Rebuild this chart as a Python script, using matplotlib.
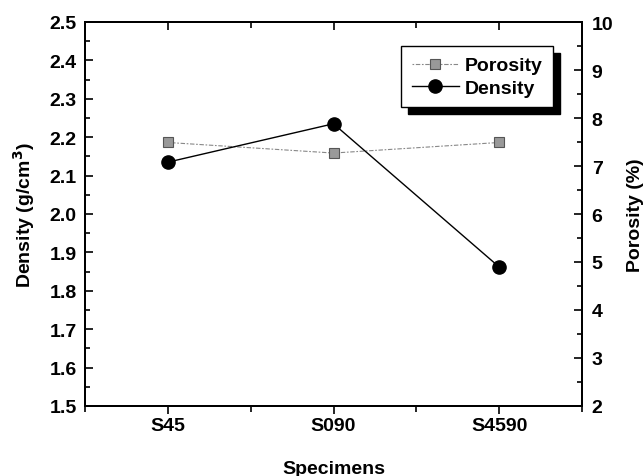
import matplotlib
matplotlib.use("Agg")
import matplotlib.pyplot as plt
from matplotlib.ticker import MultipleLocator

plt.rcParams['font.family'] = ['Liberation Sans', 'DejaVu Sans']
plt.rcParams['font.weight'] = 'bold'

specimens = ["S45", "S090", "S4590"]
density = [2.135, 2.235, 1.862]
porosity = [7.49, 7.27, 7.49]

fig = plt.figure(figsize=(6.44, 4.77), dpi=100)
ax = fig.add_axes([85/644, 1-407/477, (582-85)/644, (407-23)/477])
ax2 = ax.twinx()

x = list(range(1, len(specimens) + 1))
lp, = ax2.plot(x, porosity, linestyle=(0, (1.5, 1.5, 4, 1.5)), color='#888888', lw=0.8,
               marker='s', markersize=7.5, markerfacecolor='#999999',
               markeredgecolor='#555555', markeredgewidth=0.8, label='Porosity')
ld, = ax.plot(x, density, linestyle='-', color='black', lw=1.0,
              marker='o', markersize=9.5, markerfacecolor='black', label='Density')
ax.set_zorder(ax2.get_zorder() + 1)
ax.patch.set_visible(False)

ax.set_xlim(0.5, 3.5)
ax.set_ylim(1.5, 2.5)
ax2.set_ylim(2, 10)
ax.set_xticks(x)
ax.set_xticklabels(specimens)
ax.xaxis.set_minor_locator(MultipleLocator(0.5))
ax.yaxis.set_major_locator(MultipleLocator(0.1))
ax.yaxis.set_minor_locator(MultipleLocator(0.05))
ax2.yaxis.set_major_locator(MultipleLocator(1))
ax2.yaxis.set_minor_locator(MultipleLocator(0.5))

fs = 14
ax.tick_params(axis='y', which='both', direction='in', labelsize=fs, width=1.2, pad=6)
ax.tick_params(axis='y', which='major', length=6)
ax.tick_params(axis='y', which='minor', length=3.5)
ax2.tick_params(axis='y', which='both', direction='in', labelsize=fs, width=1.2, pad=7)
ax2.tick_params(axis='y', which='major', length=6)
ax2.tick_params(axis='y', which='minor', length=3.5)
ax.tick_params(axis='x', which='both', direction='out', labelsize=fs, width=1.2, pad=2)
ax.tick_params(axis='x', which='major', length=6)
ax.tick_params(axis='x', which='minor', length=4)
sec = ax.secondary_xaxis('top')
sec.set_xticks(x)
sec.xaxis.set_minor_locator(MultipleLocator(0.5))
sec.tick_params(which='both', direction='in', labeltop=False, width=1.2)
sec.tick_params(which='major', length=6)
sec.tick_params(which='minor', length=4)
for s in ax.spines.values():
    s.set_linewidth(1.4)
for s in ax2.spines.values():
    s.set_linewidth(1.4)
sec.spines['top'].set_linewidth(1.4)

ax.set_xlabel("Specimens", fontsize=fs, fontweight='bold', labelpad=19)
ax.set_ylabel("Density (g/cm$^\\mathbf{3}$)", fontsize=fs, fontweight='bold', labelpad=9)
ax2.set_ylabel("Porosity (%)", fontsize=fs, fontweight='bold', labelpad=10)
for lab in ax.get_xticklabels() + ax.get_yticklabels() + ax2.get_yticklabels():
    lab.set_fontweight('bold')

leg = ax.legend(handles=[lp, ld], loc='upper right', bbox_to_anchor=(0.942, 0.9375),
                borderaxespad=0, fontsize=fs, frameon=True, fancybox=False,
                shadow={'color': 'black', 'alpha': 1, 'ox': 5, 'oy': -5},
                edgecolor='black', handlelength=2.4, borderpad=0.55, labelspacing=0.25,
                handletextpad=0.3, prop={'weight': 'bold', 'size': fs})
leg.get_frame().set_linewidth(1.0)

fig.savefig("out.png", dpi=100)
